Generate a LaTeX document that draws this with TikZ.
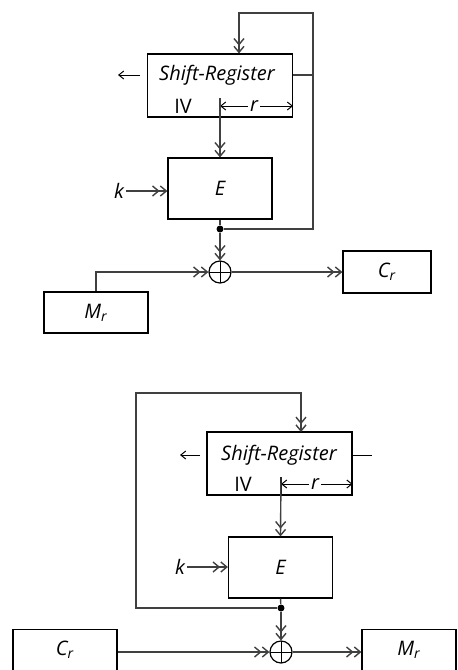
\documentclass[tikz,border=0pt]{standalone}
\usepackage{fontspec}
\setsansfont{Open Sans}
\usepackage{tikz}
\usetikzlibrary{arrows.meta, positioning, calc}
\tikzstyle{arrow} = [line width=0.7pt, draw=black!75, -{Straight Barb[length=3pt,width=5pt]Straight Barb[length=3pt,width=5pt]}]
\tikzstyle{wire} = [line width=0.7pt, draw=black!75]

\begin{document}
\begin{tikzpicture}[x=0.5pt, y=-0.5pt, every node/.style={font=\sffamily\normalsize, align=center}]
    % Define styles
    \tikzset{
        box/.style={rectangle, draw=black, line width=0.6pt, inner sep=0pt},
        regbox/.style={box, minimum width=72.5pt, minimum height=31.5pt},
        encbox/.style={box, minimum width=52pt, minimum height=30.5pt},
        msgbox/.style={box, minimum width=52pt, minimum height=20.5pt},
        xorsym/.style={circle, draw=black, line width=0.6pt, minimum size=11pt, inner sep=0pt,
            path picture={\draw[line width=0.5pt] (path picture bounding box.north) -- (path picture bounding box.south)
                (path picture bounding box.west) -- (path picture bounding box.east);}},
        dot/.style={circle, fill=black, minimum size=3.5pt, inner sep=0pt},
        lbl/.style={font=\sffamily\itshape\normalsize, inner sep=1pt},
        thin_arrow/.style={line width=0.5pt, -{Straight Barb[length=2.5pt,width=4pt]}}
    }
    \useasboundingbox (0,0) rectangle (457,670);

    % --- ENCRYPTION (TOP) ---
    \node (sr1) [regbox] at (220,85.5) {};
    \node[lbl] at (217,75) {Shift-Register};
    \node (iv1) at (183,106) {IV};
    \node[lbl] (r1) at (254,106) {r};
    \coordinate (div1) at (220,98);
    \draw[wire, draw=black] (div1) -- (div1 |- sr1.south);
    \draw[thin_arrow] (r1.west) -- (div1 |- r1);
    \draw[thin_arrow] (r1.east) -- (sr1.east |- r1);
    \draw[thin_arrow] (140,75) coordinate (out1) -- (118,75);

    % E
    \node (E1) [encbox] at (220,188.5) {\itshape E};
    \node[lbl] (k1) at (119,191) {k};
    \draw[arrow] (k1.east) -- (E1.west |- k1);
    \draw[arrow] (div1) -- (E1.north);

    % XOR
    \node (j1) [dot] at (220,229) {};
    \node (xor1) [xorsym] at (220,272) {};
    \draw[wire] (E1.south) -- (j1);
    \draw[arrow] (j1) -- (xor1.north);

    % M_r and C_r
    \node (M1) [msgbox] at (96,312.5) {\itshape M\textsubscript{r}};
    \node (C1) [msgbox, minimum width=44pt, minimum height=21pt] at (387,272) {\itshape C\textsubscript{r}};
    \draw[arrow] (M1.north) |- (xor1.west);
    \draw[arrow] (xor1.east) -- (C1.west);

    % feedback
    \coordinate (fb1) at (313,13);
    \draw[wire] (sr1.east |- 0,75) -- (fb1 |- 0,75);
    \draw[arrow] (j1) -| (fb1) -| ($(sr1.north)+(19,0)$);

    % --- DECRYPTION (BOTTOM) ---
    \node (sr2) [regbox] at (279.5,463.5) {};
    \node[lbl] at (279,455) {Shift-Register};
    \node (iv2) at (243,484) {IV};
    \node[lbl] (r2) at (315,484) {r};
    \coordinate (div2) at (281,477);
    \draw[wire, draw=black] (div2) -- (div2 |- sr2.south);
    \draw[thin_arrow] (r2.west) -- (div2 |- r2);
    \draw[thin_arrow] (r2.east) -- (sr2.east |- r2);
    \draw[thin_arrow] (200,455) coordinate (out2) -- (180,455);
    \draw[line width=0.5pt] (sr2.east |- 0,455) -- (372,455);

    % E
    \node (E2) [encbox] at (280.5,567.5) {\itshape E};
    \node[lbl] (k2) at (180,567) {k};
    \draw[arrow] (k2.east) -- (E2.west |- k2);
    \draw[arrow] (div2) -- (E2.north);

    % XOR
    \node (j2) [dot] at (281,608) {};
    \node (xor2) [xorsym] at (281,652) {};
    \draw[wire] (E2.south) -- (j2);
    \draw[arrow] (j2) -- (xor2.north);

    % C_r and M_r
    \node (C2) [msgbox] at (65,650) {\itshape C\textsubscript{r}};
    \node (M2) [msgbox, minimum width=47pt] at (409,650) {\itshape M\textsubscript{r}};
    \draw[arrow] (C2.east |- xor2) -- (xor2.west);
    \draw[arrow] (xor2.east) -- (M2.west |- xor2);

    % feedback
    \coordinate (fb2) at (136,393);
    \draw[arrow] (j2) -| (fb2) -| (301,432);

\end{tikzpicture}
\end{document}
